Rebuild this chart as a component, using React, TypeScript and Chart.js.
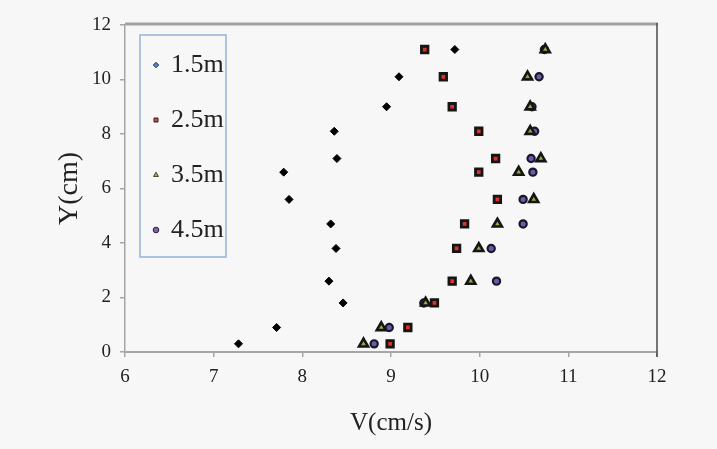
import { useEffect, useRef } from "react";
import { Chart, registerables } from "chart.js";

Chart.register(...registerables);

// ---- data ----
const seriesLabels = ["1.5m", "2.5m", "3.5m", "4.5m"];
const depthY = [0.3, 0.9, 1.8, 2.6, 3.8, 4.7, 5.6, 6.6, 7.1, 8.1, 9.0, 10.1, 11.1];
const v15 = [7.28, 7.71, 8.46, 8.3, 8.38, 8.32, 7.85, 7.79, 8.39, 8.36, 8.95, 9.09, 9.72];
const v25 = [8.99, 9.19, 9.49, 9.69, 9.74, 9.83, 10.2, 9.99, 10.18, 9.99, 9.69, 9.59, 9.38];
const v35 = [8.69, 8.89, 9.39, 9.9, 9.99, 10.2, 10.61, 10.44, 10.69, 10.57, 10.57, 10.54, 10.74];
const v45 = [8.81, 8.98, 9.37, 10.19, 10.13, 10.49, 10.49, 10.6, 10.58, 10.62, 10.59, 10.67, 10.73];
const xMin = 6, xMax = 12, xStep = 1;
const yMin = 0, yMax = 12, yStep = 2;
const xTitle = "V(cm/s)";
const yTitle = "Y(cm)";

// ---- styles ----
const pointStyles = ["rectRot", "rect", "triangle", "circle"];
const pointFill = ["#000000", "#e0302a", "#8db040", "#6f5aa8"];
const pointBorder = ["#000000", "#151515", "#151515", "#181628"];
const pointRadius = [4, 4.6, 5.2, 3.6];
const pointBorderW = [1, 2.8, 2.6, 2.2];
const legendFill = ["#4f81bd", "#c0504d", "#9bbb59", "#8064a2"];
const legendStroke = ["#2c4d75", "#3a1a1a", "#3a4a1a", "#2a2040"];
const serif = "'Liberation Serif', 'Times New Roman', serif";
const BG = "#f7f7f7";

export default function App() {
  const ref = useRef<HTMLCanvasElement>(null);

  useEffect(() => {
    document.body.style.margin = "0";
    document.body.style.background = BG;
    const canvas = ref.current;
    if (!canvas) return;

    const series = [v15, v25, v35, v45];
    const datasets = series.map((vals, i) => ({
      label: seriesLabels[i],
      data: vals.map((v, k) => ({ x: v, y: depthY[k] })),
      pointStyle: pointStyles[i] as any,
      pointRadius: pointRadius[i],
      pointHoverRadius: pointRadius[i],
      pointBackgroundColor: pointFill[i],
      pointBorderColor: pointBorder[i],
      pointBorderWidth: pointBorderW[i],
      backgroundColor: pointFill[i],
      borderColor: pointBorder[i],
      showLine: false,
    }));

    const bgPlugin = {
      id: "bg",
      beforeDraw(c: any) {
        const ctx = c.ctx;
        ctx.save();
        ctx.fillStyle = BG;
        ctx.fillRect(0, 0, c.width, c.height);
        ctx.restore();
      },
    };

    const legendPlace = {
      id: "legendPlace",
      afterLayout(c: any) {
        const lg = c.legend;
        if (!lg) return;
        lg.left = c.chartArea.left;
        lg.right = c.chartArea.right;
        lg.top = c.chartArea.top - 2;
        lg.bottom = c.chartArea.bottom;
      },
    };

    const framePlugin = {
      id: "frame",
      afterDraw(c: any) {
        const ctx = c.ctx;
        const { top, right, bottom, left } = c.chartArea;
        ctx.save();
        // top border
        ctx.strokeStyle = "#a3a3a3";
        ctx.lineWidth = 3;
        ctx.beginPath();
        ctx.moveTo(left, top - 1);
        ctx.lineTo(right + 1, top - 1);
        ctx.stroke();
        // right border
        ctx.strokeStyle = "#4a4a4a";
        ctx.lineWidth = 1.5;
        ctx.beginPath();
        ctx.moveTo(right, top - 2);
        ctx.lineTo(right, bottom + 5);
        ctx.stroke();
        // legend frame
        ctx.strokeStyle = "#95b3d7";
        ctx.lineWidth = 1.5;
        ctx.strokeRect(left + 15, top + 10, 86, 222);
        ctx.restore();
      },
    };

    const chart = new Chart(canvas, {
      type: "scatter",
      data: { datasets },
      plugins: [bgPlugin, legendPlace, framePlugin],
      options: {
        animation: false,
        responsive: false,
        devicePixelRatio: 1,
        layout: { padding: { left: 0, top: 25, right: 60, bottom: 0 } },
        plugins: {
          tooltip: { enabled: false },
          legend: {
            display: true,
            position: "chartArea",
            align: "start",
            labels: {
              usePointStyle: true,
              boxWidth: 4,
              boxHeight: 4,
              padding: 29,
              color: "#222",
              font: { family: serif, size: 26 },
              generateLabels: (c: any) =>
                c.data.datasets.map((ds: any, i: number) => ({
                  text: ds.label,
                  fillStyle: legendFill[i],
                  strokeStyle: legendStroke[i],
                  lineWidth: 1,
                  pointStyle: pointStyles[i],
                  hidden: false,
                  datasetIndex: i,
                  fontColor: "#222",
                })),
            },
          },
        },
        scales: {
          x: {
            type: "linear",
            min: xMin,
            max: xMax,
            ticks: {
              stepSize: xStep,
              color: "#222",
              padding: 9,
              font: { family: serif, size: 19 },
            },
            grid: {
              drawOnChartArea: false,
              drawTicks: true,
              tickLength: 5,
              color: "#a6a6a6",
              lineWidth: 1.5,
            },
            border: { color: "#a6a6a6", width: 2 },
            title: {
              display: true,
              text: xTitle,
              color: "#222",
              font: { family: serif, size: 25 },
              padding: { top: 0, bottom: 11 },
            },
            afterFit: (s: any) => {
              s.height = 97;
            },
          },
          y: {
            type: "linear",
            min: yMin,
            max: yMax,
            ticks: {
              stepSize: yStep,
              color: "#222",
              padding: 9,
              font: { family: serif, size: 19 },
            },
            grid: {
              drawOnChartArea: false,
              drawTicks: true,
              tickLength: 5,
              color: "#a6a6a6",
              lineWidth: 1.5,
            },
            border: { color: "#a6a6a6", width: 1.5 },
            title: {
              display: true,
              text: yTitle,
              color: "#222",
              font: { family: serif, size: 28 },
              padding: { top: 53, bottom: 0 },
            },
            afterFit: (s: any) => {
              s.width = 125;
            },
          },
        },
      } as any,
    });

    return () => chart.destroy();
  }, []);

  return (
    <div style={{ width: 717, height: 449 }}>
      <canvas ref={ref} width={717} height={449} style={{ display: "block" }} />
    </div>
  );
}
